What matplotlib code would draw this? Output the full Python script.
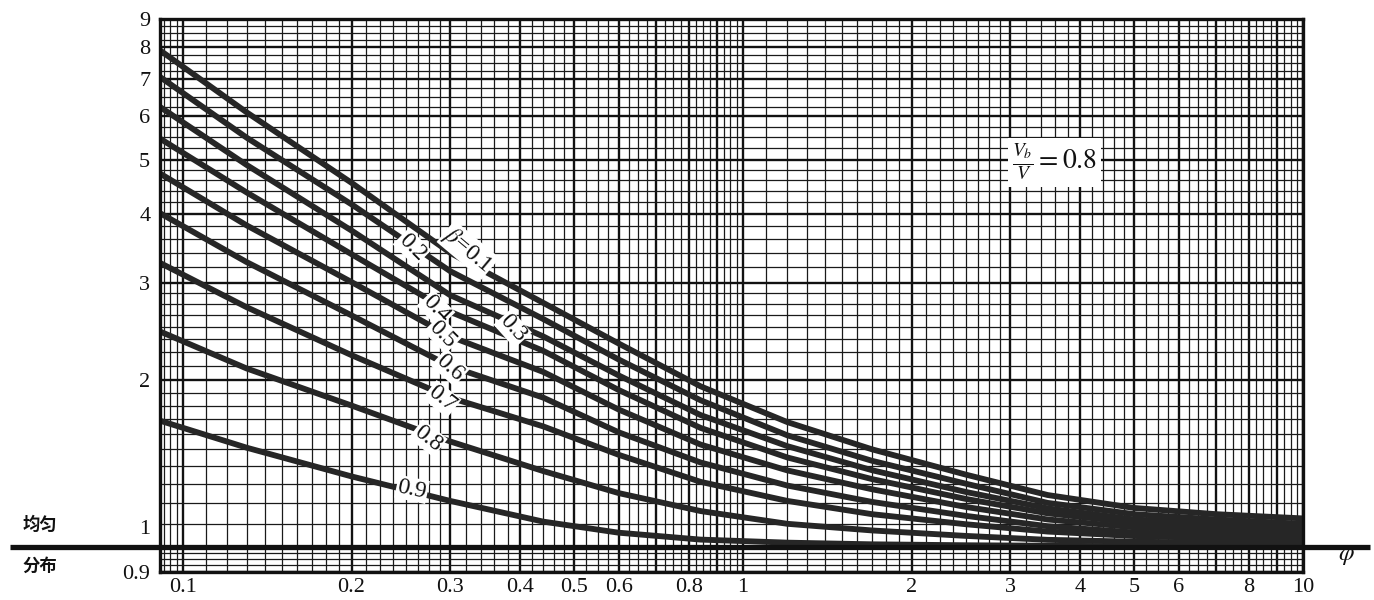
import numpy as np
import matplotlib
matplotlib.use("Agg")
import matplotlib.pyplot as plt
from matplotlib.ticker import NullLocator, FixedLocator
from matplotlib.transforms import ScaledTranslation

# ---------------- data ----------------
phi = [0.091, 0.13, 0.2, 0.3, 0.44, 0.6, 0.84, 1.2, 1.7, 2.5, 3.5, 5, 7, 10]
y_b01 = [7.90, 6.10, 4.55, 3.40, 2.76, 2.33, 1.95, 1.68, 1.50, 1.35, 1.24, 1.175, 1.145, 1.125]
y_b02 = [7.07, 5.49, 4.16, 3.15, 2.58, 2.18, 1.84, 1.59, 1.43, 1.30, 1.20, 1.145, 1.12, 1.10]
y_b03 = [6.24, 4.90, 3.73, 2.85, 2.40, 2.04, 1.73, 1.52, 1.375, 1.256, 1.173, 1.12, 1.10, 1.084]
y_b04 = [5.47, 4.37, 3.38, 2.66, 2.26, 1.92, 1.64, 1.45, 1.325, 1.22, 1.149, 1.105, 1.086, 1.0725]
y_b05 = [4.73, 3.81, 3.01, 2.40, 2.07, 1.77, 1.53, 1.374, 1.27, 1.18, 1.12, 1.084, 1.068, 1.0575]
y_b06 = [4.01, 3.27, 2.62, 2.12, 1.86, 1.61, 1.42, 1.29, 1.205, 1.137, 1.089, 1.061, 1.049, 1.041]
y_b07 = [3.26, 2.71, 2.22, 1.86, 1.65, 1.466, 1.31, 1.21, 1.145, 1.098, 1.065, 1.0455, 1.036, 1.031]
y_b08 = [2.45, 2.10, 1.80, 1.55, 1.37, 1.25, 1.16, 1.10, 1.07, 1.046, 1.029, 1.021, 1.017, 1.015]
y_b09 = [1.69, 1.51, 1.34, 1.21, 1.11, 1.06, 1.03, 1.017, 1.01, 1.006, 1.004, 1.002, 1.0, 1.0]
series = [y_b01, y_b02, y_b03, y_b04, y_b05, y_b06, y_b07, y_b08, y_b09]

beta_labels = [r"$\beta$=0.1", "0.2", "0.3", "0.4", "0.5", "0.6", "0.7", "0.8", "0.9"]
label_x = [0.323, 0.2565, 0.388, 0.283, 0.291, 0.300, 0.290, 0.274, 0.2565]
label_y = [3.44, 3.48, 2.48, 2.69, 2.42, 2.11, 1.85, 1.57, 1.27]
label_rot = [-40, -45, -48, -46, -45, -42, -38, -38, -12]

x_tick_values = [0.1, 0.2, 0.3, 0.4, 0.5, 0.6, 0.8, 1, 2, 3, 4, 5, 6, 8, 10]
x_tick_labels = ["0.1", "0.2", "0.3", "0.4", "0.5", "0.6", "0.8", "1",
                 "2", "3", "4", "5", "6", "8", "10"]
y_tick_values = [0.9, 1, 2, 3, 4, 5, 6, 7, 8, 9]
y_tick_labels = ["0.9", "1", "2", "3", "4", "5", "6", "7", "8", "9"]

# ---------------- figure ----------------
plt.rcParams["font.family"] = ["Liberation Serif", "DejaVu Serif"]
plt.rcParams["mathtext.fontset"] = "stix"

W, H = 1374, 600
fig = plt.figure(figsize=(W / 100, H / 100), dpi=100)
ax = fig.add_axes([160 / W, 28 / H, (1303 - 160) / W, (572 - 19) / H])
ax.set_xscale("log")
ax.set_yscale("log")
ax.set_xlim(0.091, 10)
ax.set_ylim(0.9, 9)


def paper_lines(lo, hi):
    minor, major = [], []
    for dec in (0.01, 0.1, 1.0, 10.0):
        for a, b, s in ((1, 2, 0.1), (2, 3, 0.125), (3, 5, 0.2), (5, 10, 0.25)):
            for v in np.arange(a, b - 1e-9, s):
                val = v * dec
                if lo * 0.9999 <= val <= hi * 1.0001:
                    if abs(v - round(v)) < 1e-9:
                        major.append(val)
                    else:
                        minor.append(val)
    return minor, major


xmin_l, xmaj_l = paper_lines(0.091, 10)
ymin_l, ymaj_l = paper_lines(0.9, 9)
ax.vlines(xmin_l, 0, 1, transform=ax.get_xaxis_transform(), colors="#1a1a1a", lw=0.9, zorder=1)
ax.vlines(xmaj_l, 0, 1, transform=ax.get_xaxis_transform(), colors="#111111", lw=1.7, zorder=1)
ax.hlines(ymin_l, 0, 1, transform=ax.get_yaxis_transform(), colors="#1a1a1a", lw=0.9, zorder=1)
ax.hlines(ymaj_l, 0, 1, transform=ax.get_yaxis_transform(), colors="#111111", lw=1.7, zorder=1)

# curves
for ys in series:
    ax.plot(phi, ys, color="#262626", lw=4.2, solid_capstyle="round",
            solid_joinstyle="round", zorder=3)

# uniform distribution line (y = 1), extending beyond the axes
ax.plot([-150 / 1143, 1210 / 1143], [1, 1], transform=ax.get_yaxis_transform(),
        color="#111111", lw=3.8, clip_on=False, solid_capstyle="butt", zorder=4)

# curve labels
for s, lx, ly, r in zip(beta_labels, label_x, label_y, label_rot):
    ax.text(lx, ly, s, rotation=r, rotation_mode="anchor", ha="center", va="center",
            fontsize=17, color="#111111", zorder=6,
            bbox=dict(facecolor="white", edgecolor="none", pad=0.8))

# V_b / V box
ax.text(3.6, 4.95, r"$\frac{V_b}{V}=0.8$", ha="center", va="center", fontsize=20,
        color="#111111", zorder=6, bbox=dict(facecolor="white", edgecolor="none", pad=3))

# ticks
ax.xaxis.set_major_locator(FixedLocator(x_tick_values))
ax.set_xticklabels(x_tick_labels)
ax.yaxis.set_major_locator(FixedLocator(y_tick_values))
ax.set_yticklabels(y_tick_labels)
ax.xaxis.set_minor_locator(NullLocator())
ax.yaxis.set_minor_locator(NullLocator())
ax.tick_params(axis="both", length=0, labelsize=16, colors="#111111")
ax.tick_params(axis="x", pad=4)
ax.tick_params(axis="y", pad=7)
for lab in ax.get_yticklabels():
    if lab.get_text() == "1":
        lab.set_transform(lab.get_transform() + ScaledTranslation(0, 20 / 100, fig.dpi_scale_trans))

for sp in ax.spines.values():
    sp.set_linewidth(2.4)
    sp.set_color("#111111")
    sp.set_zorder(5)

# side texts
cjk = ["Noto Sans CJK SC", "DejaVu Sans"]
fig.text(40 / W, 1 - 525 / H, "均匀", family=cjk, fontsize=12.5, fontweight="bold",
         ha="center", va="center", color="#111111")
fig.text(40 / W, 1 - 566 / H, "分布", family=cjk, fontsize=12.5, fontweight="bold",
         ha="center", va="center", color="#111111")
fig.text(1346 / W, 1 - 556 / H, r"$\varphi$", fontsize=18, ha="center", va="center",
         color="#111111")

fig.savefig("out.png", dpi=100, facecolor="white")
